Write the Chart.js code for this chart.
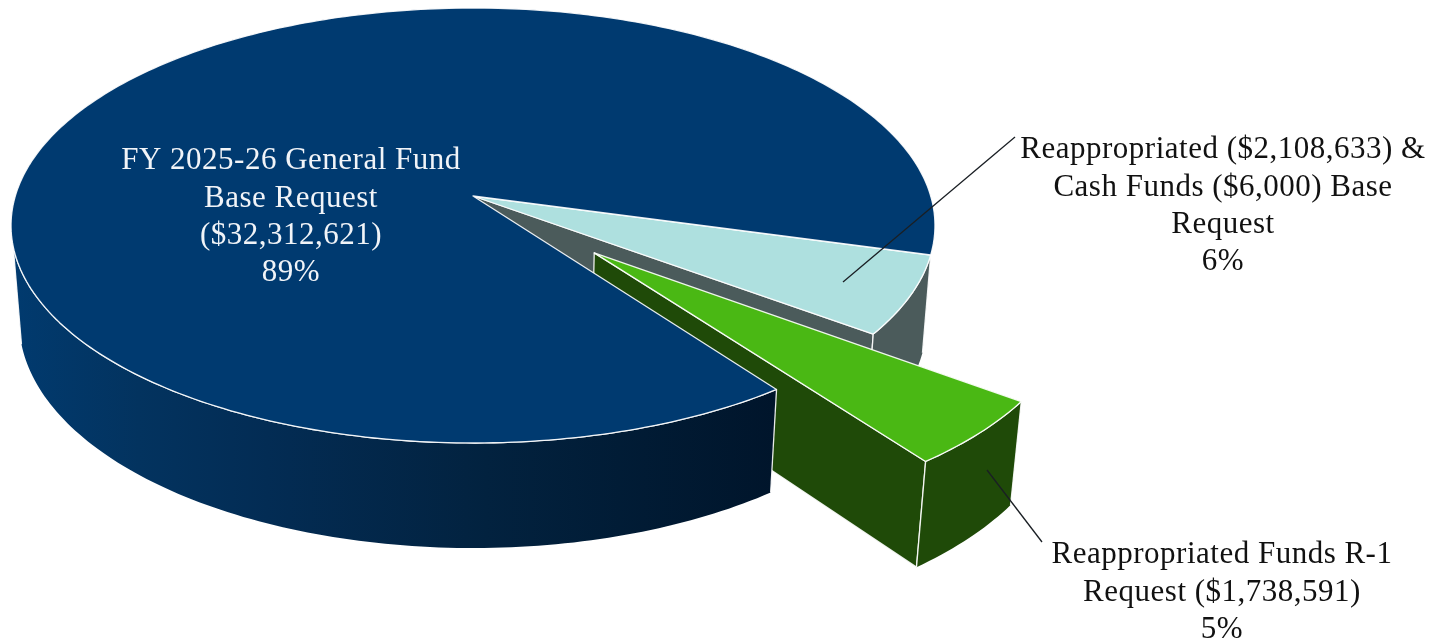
<!DOCTYPE html>
<html>
<head>
<meta charset="utf-8">
<title>FY 2025-26 Funding Request</title>
<script src="https://cdn.jsdelivr.net/npm/chart.js@4/dist/chart.umd.min.js"></script>
<style>
  html, body { margin: 0; padding: 0; background: #fff; overflow: hidden; }
  canvas { display: block; }
</style>
</head>
<body>
<canvas id="pie" width="1448" height="641"></canvas>
<script>
// Funding sources, in dollars
const categories = [
  'FY 2025-26 General Fund Base Request',
  'Reappropriated & Cash Funds Base Request',
  'Reappropriated Funds R-1 Request'
];
const amounts = [32312621, 2114633, 1738591];
const topColors = ['#003a70', '#aee0df', '#4ab814'];
const sideColors = ['#012a52', '#4b5b5b', '#1f4a08'];
const explodePx = [0, 0, 83];

// Side shading of the large slice, left to right
const blueWallStops = [
  [0.00, '#013a6e'], [0.16, '#03335f'], [0.33, '#032c54'],
  [0.62, '#02223f'], [1.00, '#00152b']
];

// Callout text: [lines, centre x, first line centre y, colour]
const callouts = [
  { lines: ['FY 2025-26 General Fund', 'Base Request', '($32,312,621)', '89%'], x: 291, y: 161, color: '#f1f4f8' },
  { lines: ['Reappropriated ($2,108,633) &', 'Cash Funds ($6,000) Base', 'Request', '6%'], x: 1223, y: 150, color: '#111' },
  { lines: ['Reappropriated Funds R-1', 'Request ($1,738,591)', '5%'], x: 1222, y: 555, color: '#111' }
];
const leaders = [
  [843, 282, 1015, 137],
  [987, 470, 1042, 542]
];

// Perspective camera: maps the unit disc to the page, depth 1 is the underside
const view = { cx: 473, cy: 196, R: 457.7, a: 213.5, k: 0.1356, q: 0.0176, b: 97, horizon: 0.225 };
function project(u, v, depth) {
  const w = 1 - view.k * v + view.q * depth;
  return [view.cx + view.R * u / w, view.cy + (view.a * v + view.b * depth) / w];
}

const STEP = Math.PI / 180;

function sliceGeometry(arc) {
  const r = arc.outerRadius;
  const mid = (arc.startAngle + arc.endAngle) / 2;
  const off = (arc.options.offset || 0) / r;
  const ox = off * Math.cos(mid), oy = off * Math.sin(mid);
  const at = (t, depth) => project(ox + Math.cos(t), oy + Math.sin(t), depth);
  const apex = depth => project(ox, oy, depth);
  return { at, apex, start: arc.startAngle, end: arc.endAngle };
}

function angleSamples(a, b) {
  const out = [];
  const n = Math.max(2, Math.ceil((b - a) / STEP));
  for (let i = 0; i <= n; i++) out.push(a + (b - a) * i / n);
  return out;
}

function tracePoly(ctx, pts) {
  ctx.beginPath();
  pts.forEach((p, i) => i ? ctx.lineTo(p[0], p[1]) : ctx.moveTo(p[0], p[1]));
  ctx.closePath();
}

const EDGE = 'rgba(255,255,255,0.9)';

function paint(ctx, pts, fill, edge) {
  tracePoly(ctx, pts);
  ctx.fillStyle = fill;
  ctx.fill();
  ctx.strokeStyle = edge;
  ctx.lineWidth = 1.3;
  ctx.lineJoin = 'round';
  ctx.stroke();
}

function drawTop(ctx, g, fill) {
  const rim = angleSamples(g.start, g.end).map(t => g.at(t, 0));
  paint(ctx, [g.apex(0), ...rim], fill, EDGE);
}

// The face below the radial edge at the trailing end of a slice
function drawEndFace(ctx, g, fill) {
  paint(ctx, [g.apex(0), g.at(g.end, 0), g.at(g.end, 1), g.apex(1)], fill, EDGE);
}

// Outer wall pieces on the side of the rim turned toward the viewer
function wallRuns(g) {
  const runs = [];
  let run = null;
  angleSamples(g.start, g.end).forEach(t => {
    if (Math.sin(t) > view.horizon) {
      if (!run) { run = []; runs.push(run); }
      run.push(t);
    } else {
      run = null;
    }
  });
  return runs;
}

function drawWall(ctx, g, ts, fill) {
  if (ts.length < 2) return;
  const upper = ts.map(t => g.at(t, 0));
  const lower = ts.slice().reverse().map(t => g.at(t, 1));
  paint(ctx, [...upper, ...lower], fill, 'rgba(255,255,255,0)');
  ctx.beginPath();
  upper.forEach((p, i) => i ? ctx.lineTo(p[0], p[1]) : ctx.moveTo(p[0], p[1]));
  ctx.strokeStyle = EDGE;
  ctx.stroke();
  [ts[0], ts[ts.length - 1]].forEach(t => {
    const a = g.at(t, 0), b = g.at(t, 1);
    ctx.beginPath();
    ctx.moveTo(a[0], a[1]);
    ctx.lineTo(b[0], b[1]);
    ctx.stroke();
  });
}

// Replaces the flat arcs with extruded slices built from the controller's angles
const extrudedPie = {
  id: 'extrudedPie',
  beforeDatasetsDraw(chart) {
    const ctx = chart.ctx;
    const arcs = chart.getDatasetMeta(0).data;
    const [big, mid, small] = arcs.map(sliceGeometry);

    const blueWall = ctx.createLinearGradient(18, 0, 775, 0);
    blueWallStops.forEach(s => blueWall.addColorStop(s[0], s[1]));

    ctx.save();
    // Surface of the large slice that the small slice leans against
    drawEndFace(ctx, big, sideColors[0]);

    // Small slice behind the exploded one
    drawEndFace(ctx, mid, sideColors[1]);
    wallRuns(mid).forEach(ts => drawWall(ctx, mid, ts, sideColors[1]));
    drawTop(ctx, mid, arcs[1].options.backgroundColor);

    // Exploded slice
    drawEndFace(ctx, small, sideColors[2]);
    wallRuns(small).forEach(ts => drawWall(ctx, small, ts, sideColors[2]));
    drawTop(ctx, small, arcs[2].options.backgroundColor);

    // Front of the large slice sits over everything behind it
    drawWall(ctx, big, wallRuns(big)[0], blueWall);
    drawTop(ctx, big, arcs[0].options.backgroundColor);
    ctx.restore();
    return false;
  },
  afterDraw(chart) {
    const ctx = chart.ctx;
    ctx.save();
    ctx.strokeStyle = '#1a1f24';
    ctx.lineWidth = 1.3;
    leaders.forEach(l => {
      ctx.beginPath();
      ctx.moveTo(l[0], l[1]);
      ctx.lineTo(l[2], l[3]);
      ctx.stroke();
    });
    ctx.font = '31px "Liberation Serif"';
    ctx.letterSpacing = '0.5px';
    ctx.textAlign = 'center';
    ctx.textBaseline = 'middle';
    callouts.forEach(c => {
      ctx.fillStyle = c.color;
      c.lines.forEach((line, i) => ctx.fillText(line, c.x, c.y + i * 37.4));
    });
    ctx.restore();
  }
};

new Chart(document.getElementById('pie'), {
  type: 'pie',
  data: {
    labels: categories,
    datasets: [{
      data: amounts,
      backgroundColor: topColors,
      offset: explodePx,
      borderWidth: 0
    }]
  },
  options: {
    responsive: false,
    animation: false,
    rotation: 143.8,
    radius: 229,
    plugins: { legend: { display: false }, tooltip: { enabled: false } }
  },
  plugins: [extrudedPie]
});
</script>
</body>
</html>
